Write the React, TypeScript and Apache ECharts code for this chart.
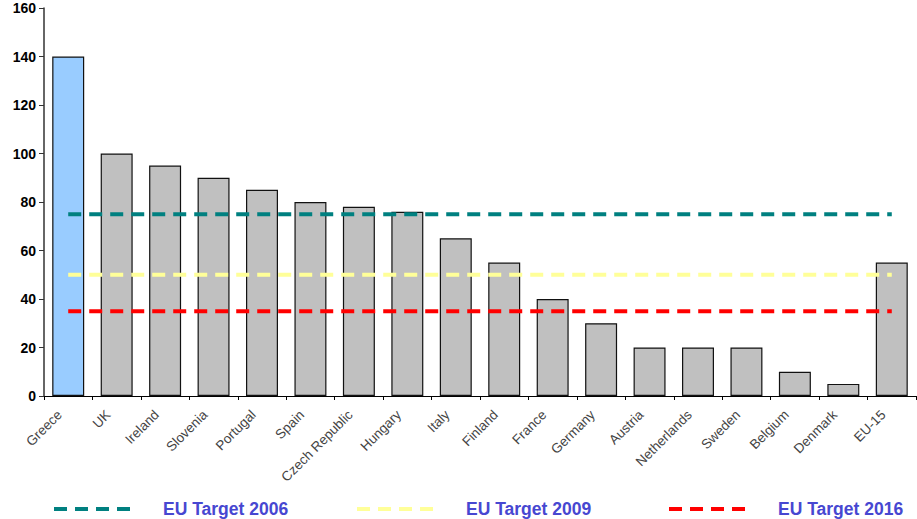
import React, { useEffect, useRef } from "react";
import * as echarts from "echarts";

const categories = [
  "Greece", "UK", "Ireland", "Slovenia", "Portugal", "Spain", "Czech Republic",
  "Hungary", "Italy", "Finland", "France", "Germany", "Austria", "Netherlands",
  "Sweden", "Belgium", "Denmark", "EU-15",
];
const values = [140, 100, 95, 90, 85, 80, 78, 76, 65, 55, 40, 30, 20, 20, 20, 10, 5, 55];
const target2006 = [75, 75, 75, 75, 75, 75, 75, 75, 75, 75, 75, 75, 75, 75, 75, 75, 75, 75];
const target2009 = [50, 50, 50, 50, 50, 50, 50, 50, 50, 50, 50, 50, 50, 50, 50, 50, 50, 50];
const target2016 = [35, 35, 35, 35, 35, 35, 35, 35, 35, 35, 35, 35, 35, 35, 35, 35, 35, 35];
const yTicks = [0, 20, 40, 60, 80, 100, 120, 140, 160];
const legendNames = ["EU Target 2006", "EU Target 2009", "EU Target 2016"];

export default function App() {
  const ref = useRef<HTMLDivElement>(null);
  useEffect(() => {
    if (!ref.current) return;
    const chart = echarts.init(ref.current, undefined, { renderer: "svg" });
    const lineSeries = (name: string, data: number[], color: string) => ({
      name,
      type: "line",
      data,
      symbol: "none",
      showSymbol: false,
      z: 5,
      lineStyle: { color, width: 4, type: [13, 8] },
      itemStyle: { color },
    });
    const legendLefts = [47, 350, 662];
    const legends = legendNames.map((n, i) => ({
      top: 495,
      left: legendLefts[i],
      itemWidth: 83,
      itemHeight: 4,
      data: [n],
      itemStyle: { opacity: 0 },
      lineStyle: { width: 4, type: [13, 8] },
      textStyle: {
        color: "#4747d1",
        fontFamily: "Liberation Sans, Arial, sans-serif",
        fontWeight: "bold",
        fontSize: 17.5,
        padding: [0, 0, 0, 21],
      },
    }));
    chart.setOption({
      animation: false,
      backgroundColor: "#ffffff",
      grid: { left: 44, right: 1, top: 8, bottom: 123, containLabel: false },
      legend: legends,
      xAxis: {
        type: "category",
        data: categories,
        boundaryGap: true,
        axisLine: { lineStyle: { color: "#000", width: 1 } },
        axisTick: { show: true, length: 4, lineStyle: { color: "#000" } },
        axisLabel: {
          rotate: 45,
          interval: 0,
          margin: 8,
          fontSize: 13.5,
          color: "#444",
          padding: [0, 12, 0, 0],
          fontFamily: "Liberation Sans, Arial, sans-serif",
        },
      },
      yAxis: {
        type: "value",
        min: yTicks[0],
        max: yTicks[yTicks.length - 1],
        interval: 20,
        splitLine: { show: false },
        axisLine: { show: true, lineStyle: { color: "#333", width: 1.5 } },
        axisTick: { show: true, length: 5, lineStyle: { color: "#333" } },
        axisLabel: {
          fontSize: 14,
          fontWeight: "bold",
          color: "#000",
          margin: 8,
          fontFamily: "Liberation Sans, Arial, sans-serif",
        },
      },
      series: [
        {
          name: "Value",
          type: "bar",
          data: values.map((v, i) => ({
            value: v,
            itemStyle: { color: i === 0 ? "#99ccff" : "#c0c0c0" },
          })),
          barCategoryGap: "34%",
          itemStyle: { borderColor: "#111", borderWidth: 1.2 },
          z: 2,
        },
        lineSeries(legendNames[0], target2006, "#008080"),
        lineSeries(legendNames[1], target2009, "#ffff99"),
        lineSeries(legendNames[2], target2016, "#ff0000"),
      ],
    });
    return () => chart.dispose();
  }, []);
  return (
    <div
      ref={ref}
      style={{ position: "fixed", left: 0, top: 0, width: 917, height: 519 }}
    />
  );
}
